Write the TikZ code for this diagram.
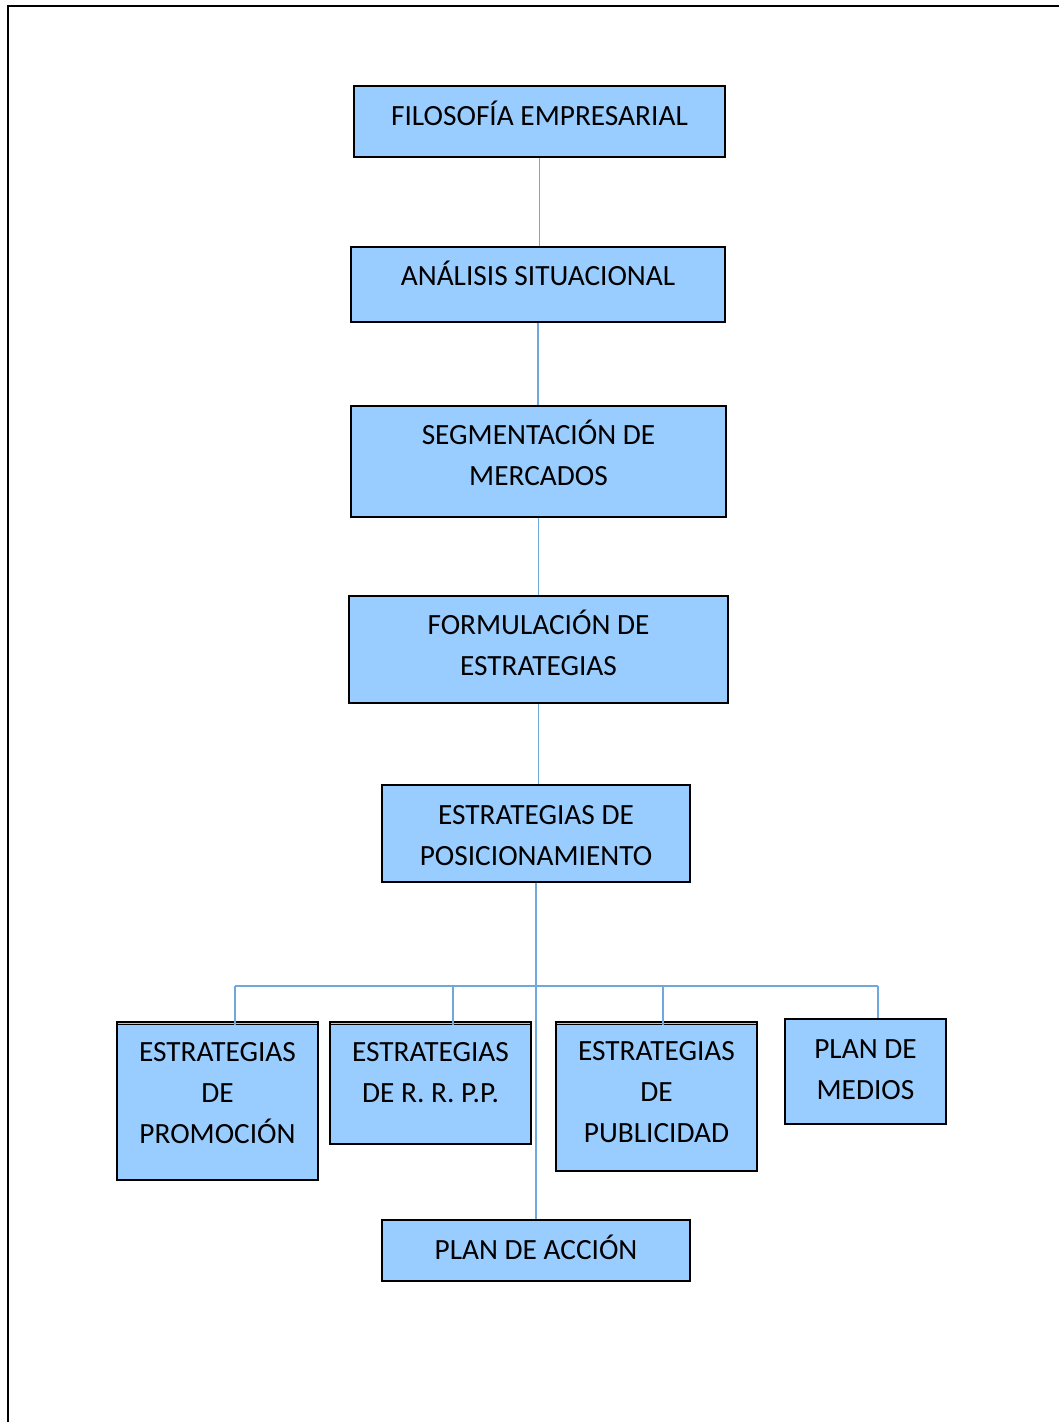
\documentclass[tikz,border=0pt]{standalone}
\usepackage{fontspec}
\setmainfont{Carlito}
\usepackage{tikz}
\usetikzlibrary{calc,positioning}
\definecolor{boxblue}{RGB}{153,204,255}
\definecolor{lineblue}{RGB}{111,168,220}
\newcommand{\boxtext}[2]{\raisebox{#1}[\height][\depth]{\begin{tabular}{@{}c@{}}#2\end{tabular}}}
\tikzset{
    box/.style={draw=black, line width=1.5pt, fill=boxblue, inner sep=0pt,
        font=\fontsize{22}{30.75}\selectfont},
    conn/.style={draw=lineblue, line width=1.1pt},
    topline/.style={line width=1.1pt},
}

\begin{document}
\begin{tikzpicture}[x=0.75pt,y=0.75pt,yscale=-1,xscale=1]
\useasboundingbox (0,0) rectangle (1059,1422);
%Frame
\draw [line width=1.5pt] (8,1422) -- (8,5.5) -- (1059,5.5) ;
%Boxes
\node [box, minimum width=278.25pt, minimum height=53.25pt] (filosofia) at (539.5,121.5) {\boxtext{3.2pt}{FILOSOFÍA EMPRESARIAL}};
\node [box, minimum width=280.5pt, minimum height=56.25pt] (analisis) at (538,284.5) {\boxtext{5.4pt}{ANÁLISIS SITUACIONAL}};
\node [box, minimum width=281.25pt, minimum height=83.25pt] (segmentacion) at (538.5,461.5) {\boxtext{3.2pt}{SEGMENTACIÓN DE\\MERCADOS}};
\node [box, minimum width=284.25pt, minimum height=80.25pt] (formulacion) at (538.5,649.5) {\boxtext{2pt}{FORMULACIÓN DE\\ESTRATEGIAS}};
\node [box, minimum width=231pt, minimum height=72.75pt] (posicionamiento) at (536,833.5) {\boxtext{-2.5pt}{ESTRATEGIAS DE\\POSICIONAMIENTO}};
\node [box, minimum width=150.75pt, minimum height=118.5pt] (promocion) at (217.5,1101) {\boxtext{5pt}{ESTRATEGIAS\\DE\\PROMOCIÓN}};
\node [box, minimum width=150.75pt, minimum height=91.5pt] (rrpp) at (430.5,1083) {\boxtext{6.9pt}{ESTRATEGIAS\\DE R. R. P.P.}};
\node [box, minimum width=150.75pt, minimum height=111.75pt] (publicidad) at (656.5,1096.5) {\boxtext{2.4pt}{ESTRATEGIAS\\DE\\PUBLICIDAD}};
\node [box, minimum width=120.75pt, minimum height=78.75pt] (medios) at (865.5,1071.5) {\boxtext{0.9pt}{PLAN DE\\MEDIOS}};
\node [box, minimum width=231pt, minimum height=45.75pt] (accion) at (536,1250.5) {\boxtext{-0.6pt}{PLAN DE ACCIÓN}};
%Double top edges
\foreach \b in {promocion,rrpp,publicidad}
    \draw [topline] ([yshift=2.6pt]\b.north west) -- ([yshift=2.6pt]\b.north east) ;
%Bus and drops
\coordinate (bus) at (536,986);
\coordinate (d1) at (235,986);
\coordinate (d2) at (453,986);
\coordinate (d3) at (663,986);
\coordinate (d4) at (878,986);
%Straight Lines
\draw [conn] (filosofia.south) -- (filosofia.south |- analisis.north) ;
\draw [conn] (analisis.south) -- (analisis.south |- segmentacion.north) ;
\draw [conn] (segmentacion.south) -- (segmentacion.south |- formulacion.north) ;
\draw [conn] (formulacion.south) -- (formulacion.south |- posicionamiento.north) ;
\draw [conn] (posicionamiento.south) -- (accion.north) ;
\draw [conn] (d1) -- (d4) ;
\draw [conn] (d1) -- ([yshift=3pt]d1 |- promocion.north) ;
\draw [conn] (d2) -- ([yshift=3pt]d2 |- rrpp.north) ;
\draw [conn] (d3) -- ([yshift=3pt]d3 |- publicidad.north) ;
\draw [conn] (d4) -- (d4 |- medios.north) ;
\end{tikzpicture}
\end{document}
